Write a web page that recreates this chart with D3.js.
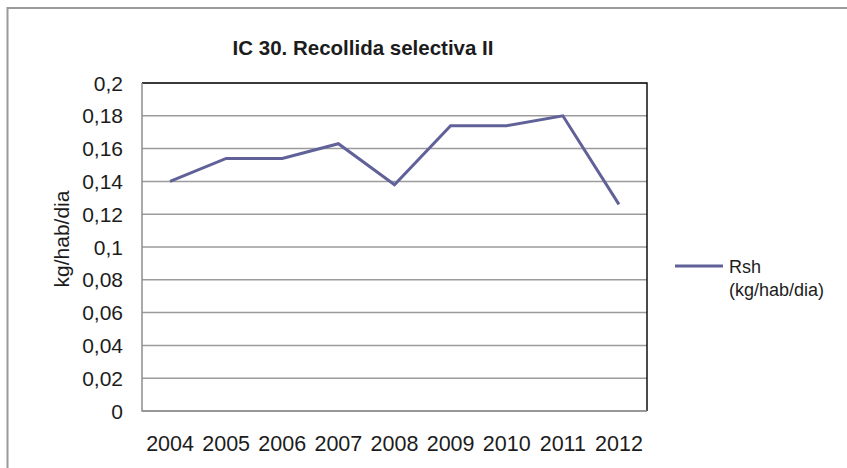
<!DOCTYPE html>
<html>
<head>
<meta charset="utf-8">
<script src="https://cdn.jsdelivr.net/npm/d3@7"></script>
<style>
  html, body { margin: 0; padding: 0; background: #fff; }
  svg { display: block; font-family: "Liberation Sans", Arial, sans-serif; }
</style>
</head>
<body>
<svg id="chart" width="847" height="468"></svg>
<script>
// Recollida selectiva: Rsh per year (kg/hab/dia)
const years = ["2004", "2005", "2006", "2007", "2008", "2009", "2010", "2011", "2012"];
const rsh = [0.140, 0.154, 0.154, 0.163, 0.138, 0.174, 0.174, 0.180, 0.126];
const yTicks = [0, 0.02, 0.04, 0.06, 0.08, 0.1, 0.12, 0.14, 0.16, 0.18, 0.2];
const titleText = "IC 30. Recollida selectiva II";
const yTitle = "kg/hab/dia";
const legendLines = ["Rsh", "(kg/hab/dia)"];

const svg = d3.select("#chart");
const plot = { left: 142, top: 83, right: 647, bottom: 411 };
const lineColor = "#61619a";
const textColor = "#1c1c1c";

// outer chart frame
svg.append("rect")
  .attr("x", 7.5).attr("y", 8)
  .attr("width", 900).attr("height", 500)
  .attr("fill", "#fff")
  .attr("stroke", "#9a9a9a")
  .attr("stroke-width", 2);

const x = d3.scaleBand().domain(years).range([plot.left, plot.right]);
const y = d3.scaleLinear().domain([0, 0.2]).range([plot.bottom, plot.top]);

// horizontal gridlines
svg.append("g")
  .selectAll("line")
  .data(yTicks)
  .join("line")
  .attr("x1", plot.left).attr("x2", plot.right)
  .attr("y1", d => y(d)).attr("y2", d => y(d))
  .attr("stroke", "#9b9b9b")
  .attr("stroke-width", 1.5);

// plot area border: dark top and right edges
svg.append("path")
  .attr("d", `M${plot.left},${plot.top}H${plot.right}V${plot.bottom}`)
  .attr("fill", "none")
  .attr("stroke", "#111")
  .attr("stroke-width", 1.5);

// value and category axis lines
svg.append("path")
  .attr("d", `M${plot.left},${plot.top}V${plot.bottom}H${plot.right}`)
  .attr("fill", "none")
  .attr("stroke", "#8f8f8f")
  .attr("stroke-width", 1.5);

// y axis labels
const fmt = d => d === 0 ? "0" : String(+d.toFixed(2)).replace(".", ",");
svg.append("g")
  .selectAll("text")
  .data(yTicks)
  .join("text")
  .attr("x", 123)
  .attr("y", d => y(d))
  .attr("dy", "0.36em")
  .attr("text-anchor", "end")
  .attr("font-size", 21)
  .attr("fill", textColor)
  .text(fmt);

// x axis labels
svg.append("g")
  .selectAll("text")
  .data(years)
  .join("text")
  .attr("x", d => x(d) + x.bandwidth() / 2)
  .attr("y", 451)
  .attr("text-anchor", "middle")
  .attr("font-size", 21.5)
  .attr("fill", textColor)
  .text(d => d);

// data line
const line = d3.line()
  .x((d, i) => x(years[i]) + x.bandwidth() / 2)
  .y(d => y(d));
svg.append("path")
  .datum(rsh)
  .attr("d", line)
  .attr("fill", "none")
  .attr("stroke", lineColor)
  .attr("stroke-width", 3)
  .attr("stroke-linejoin", "miter");

// title
svg.append("text")
  .attr("x", 363).attr("y", 55)
  .attr("text-anchor", "middle")
  .attr("font-size", 20.5)
  .attr("font-weight", "bold")
  .attr("fill", textColor)
  .text(titleText);

// y axis title
svg.append("text")
  .attr("transform", "translate(69,239) rotate(-90)")
  .attr("text-anchor", "middle")
  .attr("font-size", 21)
  .attr("fill", textColor)
  .text(yTitle);

// legend
svg.append("line")
  .attr("x1", 675).attr("x2", 723)
  .attr("y1", 266).attr("y2", 266)
  .attr("stroke", lineColor)
  .attr("stroke-width", 3);
svg.append("g")
  .selectAll("text")
  .data(legendLines)
  .join("text")
  .attr("x", 729)
  .attr("y", (d, i) => 273 + i * 23)
  .attr("font-size", 18)
  .attr("fill", textColor)
  .text(d => d);
</script>
</body>
</html>
